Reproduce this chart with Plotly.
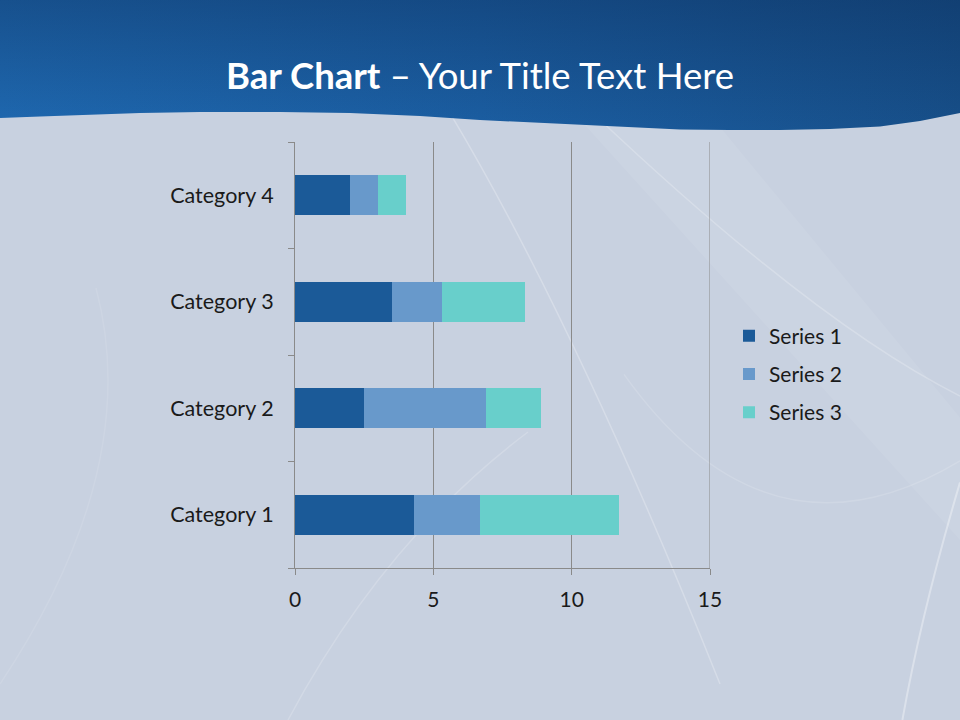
import plotly.graph_objects as go

categories = ["Category 1", "Category 2", "Category 3", "Category 4"]
series_names = ["Series 1", "Series 2", "Series 3"]
series1 = [4.3, 2.5, 3.5, 2.0]
series2 = [2.4, 4.4, 1.8, 1.0]
series3 = [5.0, 2.0, 3.0, 1.0]
series_colors = ["#1b5a98", "#6899cb", "#68cfcb"]
x_ticks = [0, 5, 10, 15]

W, H = 960, 720
FONT = "Lato"

fig = go.Figure()

# Header wave (full-page overlay axes x2/y2 in pixel units)
wave_x = [0, 40, 80, 140, 200, 280, 350, 420, 480, 530, 580, 630, 680, 730, 780, 830, 880, 920, 960]
wave_y = [118, 116.5, 115, 113, 112, 112, 113, 116, 120, 122.5, 125, 127.5, 129.5, 130, 130, 129, 126.5, 121, 113]
hx = [0] + wave_x + [960, 0]
hy = [0] + wave_y + [0, 0]
fig.add_trace(go.Scatter(
    x=hx, y=hy, xaxis="x2", yaxis="y2", mode="lines", line=dict(width=0),
    fill="toself", cliponaxis=True,
    fillgradient=dict(type="horizontal", colorscale=[[0, "#1f69b1"], [0.5, "#1b5ea2"], [1, "#174f89"]]),
    hoverinfo="skip", showlegend=False,
))
fig.add_trace(go.Scatter(
    x=hx, y=hy, xaxis="x2", yaxis="y2", mode="lines", line=dict(width=0),
    fill="toself", cliponaxis=True,
    fillgradient=dict(type="vertical", colorscale=[[0, "rgba(8,35,75,0.0)"], [1, "rgba(8,35,75,0.35)"]]),
    hoverinfo="skip", showlegend=False,
))

for name, vals, col in zip(series_names, [series1, series2, series3], series_colors):
    fig.add_trace(go.Bar(
        y=categories, x=vals, name=name, orientation="h",
        marker=dict(color=col, line=dict(width=0)),
        legendgroup=name,
    ))

shapes = [
    # light diagonal wedge
    dict(type="path", xref="paper", yref="paper", layer="below",
         path="M 0.60 0.84 L 0.74 0.84 L 1.0 0.42 L 1.0 0.25 Z",
         fillcolor="rgba(255,255,255,0.07)", line=dict(width=0)),
    dict(type="path", xref="paper", yref="paper", layer="below",
         path="M 0.47 0.84 Q 0.60 0.55 0.75 0.05",
         line=dict(color="rgba(255,255,255,0.25)", width=1.5)),
    dict(type="path", xref="paper", yref="paper", layer="below",
         path="M 0.62 0.84 Q 0.85 0.55 1.0 0.45",
         line=dict(color="rgba(255,255,255,0.22)", width=1.5)),
    dict(type="path", xref="paper", yref="paper", layer="below",
         path="M 1.0 0.33 Q 0.96 0.15 0.94 0.0",
         line=dict(color="rgba(255,255,255,0.35)", width=2)),
    dict(type="path", xref="paper", yref="paper", layer="below",
         path="M 0.65 0.48 Q 0.80 0.20 1.0 0.36",
         line=dict(color="rgba(255,255,255,0.14)", width=1.5)),
    dict(type="path", xref="paper", yref="paper", layer="below",
         path="M 0.30 0.0 Q 0.40 0.25 0.55 0.40",
         line=dict(color="rgba(255,255,255,0.18)", width=1.5)),
    dict(type="path", xref="paper", yref="paper", layer="below",
         path="M 0.0 0.05 Q 0.15 0.35 0.10 0.60",
         line=dict(color="rgba(255,255,255,0.10)", width=1.5)),
    # gridline at the last x tick (plotly omits it at the range edge)
    dict(type="line", xref="x", yref="y domain", layer="below",
         x0=x_ticks[-1], x1=x_ticks[-1], y0=0, y1=1,
         line=dict(color="#8a8a8a", width=1)),
]

fig.update_layout(
    width=W, height=H,
    autosize=False,
    margin=dict(l=0, r=0, t=0, b=0, pad=0, autoexpand=False),
    paper_bgcolor="#c8d1e0",
    plot_bgcolor="rgba(0,0,0,0)",
    barmode="stack",
    bargap=0.625,
    font=dict(family=FONT, size=21, color="#1a1a1a"),
    shapes=shapes,
    showlegend=True,
    legend=dict(
        x=729 / W, y=(H - 374) / H, xanchor="left", yanchor="middle",
        traceorder="grouped", tracegroupgap=8,
        bgcolor="rgba(0,0,0,0)", font=dict(family=FONT, size=21, color="#1a1a1a"),
        itemwidth=30,
    ),
    xaxis=dict(
        domain=[295 / W, 710 / W], range=[0, 15], tickvals=x_ticks,
        showgrid=True, gridcolor="#8a8a8a", gridwidth=1,
        zeroline=False, showline=True, linecolor="#8a8a8a", linewidth=1,
        ticks="outside", ticklen=6, tickcolor="#8a8a8a",
        ticklabelstandoff=7, fixedrange=True, automargin=False,
    ),
    yaxis=dict(
        domain=[(H - 568) / H, (H - 142) / H], anchor="x",
        type="category", tickson="boundaries",
        showgrid=False, zeroline=False, showline=True, linecolor="#8a8a8a", linewidth=1,
        ticks="outside", ticklen=6, tickcolor="#8a8a8a",
        ticklabelstandoff=16, fixedrange=True, automargin=False,
        tickfont=dict(size=21.5),
    ),
    xaxis2=dict(domain=[0, 1], range=[0, W], visible=False, anchor="y2",
                fixedrange=True, automargin=False),
    yaxis2=dict(domain=[0, 1], range=[H, 0], visible=False, anchor="x2",
                fixedrange=True, automargin=False),
    annotations=[dict(
        x=480 / W, y=(H - 75) / H, xref="paper", yref="paper",
        text="<b>Bar Chart</b> – Your Title Text Here", showarrow=False,
        font=dict(family=FONT, size=36.5, color="white"), xanchor="center", yanchor="middle",
    )],
)

fig.write_html(
    "out.html",
    config={"responsive": False, "displayModeBar": False},
    post_script=(
        "document.documentElement.style.overflow='hidden';"
        "document.body.style.margin='0';document.body.style.overflow='hidden';"
        "Plotly.relayout('{plot_id}', {width: 960, height: 720});"
    ),
)
